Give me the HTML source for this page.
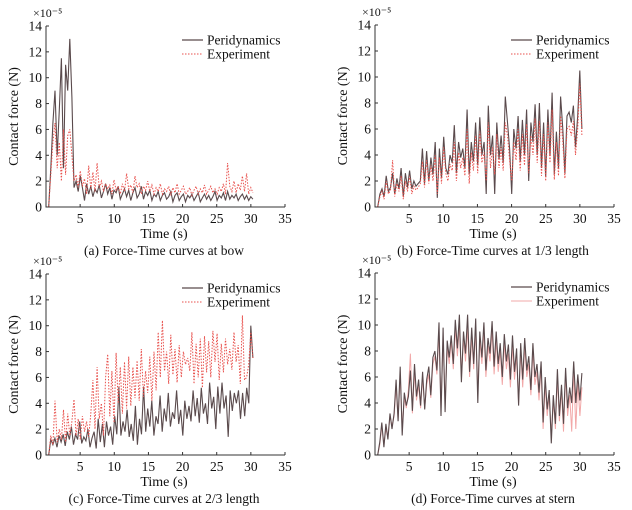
<!DOCTYPE html>
<html><head><meta charset="utf-8">
<style>
html,body{margin:0;padding:0;background:#fff;}
svg{display:block;font-family:"Liberation Serif",serif;}
</style></head>
<body>
<svg id="chart" width="632" height="510" viewBox="0 0 632 510"></svg>
<script>
const xTicks = [5,10,15,20,25,30,35];
const yTicks = [0,2,4,6,8,10,12,14];
const captions = ["(a) Force-Time curves at bow","(b) Force-Time curves at 1/3 length","(c) Force-Time curves at 2/3 length","(d) Force-Time curves at stern"];
const seriesNames = ["Peridynamics","Experiment"];
const tEnd = 30.3;
const tStart = 0.4;

const bowPeri = [0,3,6.5,9,4,7.5,11.5,3,11,9,13,8.5,1.5,2,1.2,2.4,1.5,0.5,1.8,1,1.6,0.8,1.4,1.1,1.7,0.7,1.2,1.8,1,1.5,0.6,1.3,1.1,1.6,0.6,1,1.4,0.8,1.3,0.5,1.1,1.5,0.7,1,1.6,0.6,1.2,0.9,1.3,0.5,1,0.8,1.2,0.5,0.9,1.1,0.6,0.8,1.2,0.4,0.9,1.1,0.5,0.8,1,0.4,0.9,0.7,1,0.5,0.8,1.1,0.4,0.7,1,0.6,0.9,0.5,0.8,1.2,0.5,0.9,0.7,1.1,0.5,1.2,0.6,0.9,0.7,1,0.5,0.8,1,0.6,0.9,0.5,0.8,0.6];
const bowExp = [0,2.5,5,6.5,3,5,2,6,2.5,5.5,6,4,2,2.5,1.5,2.8,1.6,2.2,1,3.2,1.4,2.7,1.2,3.4,1.5,2,1.2,1.8,1.4,1.7,1,2.1,1.3,1.6,1,1.8,1.2,2.6,1.4,1.7,1.1,2.4,1.5,1.8,1,1.6,1.3,2,1.2,1.7,1,1.5,1.2,1.8,1,1.4,1.2,1.6,0.9,1.5,1.1,1.8,1,1.3,1.6,1,1.2,1.5,0.9,1.3,1.6,1,1.4,1.1,1.7,1,1.3,1.6,1.1,1.4,1,1.5,1.2,1.8,1,3.4,1.6,1.2,2,1.1,1.8,1.3,2.4,1.2,2.6,1,1.5,1.1];
const thirdPeri = [0,1,1.4,0.8,2.4,1.2,1.5,2.6,1,2.2,1.4,3,0.8,2.6,1.5,2.8,1.4,2,1.6,1.8,2,4.5,1.8,4.3,2,3.8,2.5,5,0.7,4.5,2.2,5.4,3,2.5,4,3.4,6.3,2.6,5,3.8,4.5,3,7.5,2.5,5,3.5,6.5,3.2,6.9,4,5,1,7.8,4,5.5,1,6.5,3.7,5.5,3.4,8.5,6.5,4.5,1,6,4.5,7,3.5,6.7,4,7.5,2,6.5,5,7.9,4,8,3,6.5,2.3,7.5,4,8.8,2.5,5.8,3,8.5,6,2.6,7,7.3,6.5,7.8,4.6,7,10.5,6];
const thirdExp = [0,0.8,1.2,0.6,2,1,1.3,3.6,0.8,1.8,1.2,2.4,0.6,2,1.2,2.4,1,1.6,1.3,1.5,1.8,3.5,1.5,3.6,1.8,3.2,2,4,1,3.8,1.8,4.6,2.6,2,3.3,2.8,5,2,4.2,3,3.8,2.4,6,1.8,4.2,2.8,5.5,2.6,5.8,3.4,4.2,2,6.5,3,4.6,2.5,5.6,3,4.6,2.8,6.5,5.5,3.6,2,5,3.6,6,2.8,5.6,3.2,6.4,2.6,5.5,4,6.8,3.4,6.6,2.4,5.6,2,6.5,3.4,7.5,2.1,5,2.4,7,5,2.2,6,6.2,5.5,6.6,4,6,9.5,5.5];
const twoThirdPeri = [0,1.2,0.8,1.3,0.6,1.5,1,1.6,0.7,1.8,1.2,2.2,0.8,1.6,1.2,2.6,0.9,1.4,1.1,2,0.6,1.3,1.8,0.5,2.8,1,2.4,0.6,2.6,1.5,2.2,0.8,3,1.6,5.3,1.5,2.6,1.8,3.5,1.4,2.4,1.1,3.8,0.8,2.8,1.6,5.3,1.8,3.6,2.2,4.2,1.5,3,2.4,4.6,1.8,3.6,2.6,4.8,2.2,3.3,2.8,5,2.4,3.5,1.5,4.2,2.8,3.8,2.6,5,3,4.4,2.5,5.2,3.2,4,2.4,5.6,3.6,4.5,2,5.3,3.2,5.6,3.6,4.6,1.4,5,3.4,4.8,4,5,2.8,4.8,3,5.2,4,10,7.5];
const twoThirdExp = [0,1.5,0.8,4.2,1,2,1.2,3.5,1,3.2,1.5,2.6,4.3,1.5,2.8,1.2,3,1.8,2.6,1.4,3.2,5.8,2,6.8,2.8,4,1.5,6,7.8,3,6.5,2.5,7.9,4,6.8,3.2,7.2,3.6,7.6,3.8,6.8,4.4,7.3,4.2,8.2,4.5,6.5,4.8,7.6,4.2,8,5,9.5,6,10.4,6.5,8,5.5,9.3,6.2,8.2,5.6,8.5,6,8,7,7.5,6.5,9.5,5.5,8.6,6,9,5.2,9.2,6.4,8.8,6,9.6,7.2,9.4,5.8,8.6,6.4,9,7,8.2,6.6,9.5,7.2,8.5,5.5,10.8,5.8,6,7,9.5,7.5];
const sternPeri = [0,1,2.5,0.6,2.4,1.2,3.2,2,3.2,5.8,2.6,6.8,1.5,4.8,3.8,4.5,6.5,3.4,7,4.5,5.8,3.8,6.4,3.5,5.8,6.8,4.6,7.5,8,6.5,10.2,3,9.8,3.3,8.8,7.5,9.2,7,10.4,8.2,10.8,5.6,9.5,7.8,10.8,6.4,9.8,7,10.5,4,9.5,7.5,10.2,6.5,9,7.8,10.3,6.8,9.5,7,8.6,6,9.3,7.2,8.5,5.8,9.2,6.4,8.2,3.8,8.6,5.8,9,6.5,7.6,5,8.6,6,7,4.8,7.2,2.5,6,3.5,5,0.9,4.6,2.4,6.6,3,5.4,2.4,6.7,3.6,5.2,4,7.2,4,6.2,4.2,6.3];
const sternExp = [0,0.8,2.2,0.8,2,1.4,3,2.2,3,5.2,2.8,6.2,2,4.4,3.6,5,7.8,3.2,6.4,4.2,5.4,3.6,6,3.6,5.4,6.2,4.4,7,7.6,6.2,9.4,3.6,9,4,8.4,7,8.8,6.6,9.8,7.6,10,6,9,7.2,9.8,6,9.2,6.6,9.8,5,8.8,7,9.6,6,8.4,7.2,9.6,6.2,8.8,6.4,8,5.4,8.6,6.6,7.8,5.2,8.4,5.8,7.6,4,8,5.2,8.4,6,7,4.6,8,5.4,6.4,4.2,6.8,2,5.4,3,4.6,1.6,4.2,2,6,2.6,5,1.8,6.2,3,4.6,1.8,6.6,2,5.6,3,5.2];

const svg = document.getElementById('chart');
const NS = 'http://www.w3.org/2000/svg';
function mk(tag, attrs, parent){const e=document.createElementNS(NS,tag);for(const k in attrs)e.setAttribute(k,attrs[k]);parent.appendChild(e);return e;}

function drawPanel(name, ox, y0, y14, peri, exp, expStyle, caption, legY){
  const g = mk('g',{},svg);
  
  
  const x35 = ox + 239;
  const xs = t => ox + t/35*(x35-ox);
  const ys = v => y0 - v/14*(y0-y14);
  const line = (arr, attrs, nm) => {
    const n = arr.length;
    const pts = arr.map((v,i)=>xs(tStart + i*(tEnd-tStart)/(n-1)).toFixed(1)+','+ys(v).toFixed(1)).join(' ');
    const p = mk('polyline', Object.assign({points:pts, fill:'none'}, attrs), g);
    
    
  };
  if (expStyle==='pink') {
    line(exp, {stroke:'#f2a8a8','stroke-width':1}, 'experiment-line');
  }
  line(peri, {stroke:'#5a4a4c','stroke-width':1.1}, 'peridynamics-line');
  if (expStyle==='dot') {
    line(exp, {stroke:'#e8504c','stroke-width':1,'stroke-dasharray':'1.5,1.5'}, 'experiment-line');
  }
  const ax = mk('path',{d:`M${ox},${y14} L${ox},${y0} L${x35},${y0}`,stroke:'#333',fill:'none','stroke-width':1},g);
  
  
  xTicks.forEach(t=>{
    mk('line',{x1:xs(t),x2:xs(t),y1:y0,y2:y0-3,stroke:'#333'},g);
    const tx = mk('text',{x:xs(t),y:y0+16,'text-anchor':'middle','font-size':13.5,fill:'#111'},g);
    tx.textContent = t;
    
    
  });
  yTicks.forEach(v=>{
    mk('line',{x1:ox,x2:ox+3,y1:ys(v),y2:ys(v),stroke:'#333'},g);
    const tx = mk('text',{x:ox-4,y:ys(v)+4.5,'text-anchor':'end','font-size':13.5,fill:'#111'},g);
    tx.textContent = v;
    
    
  });
  const ex = mk('text',{x:ox-13,y:y14-9,'font-size':12,fill:'#111'},g);
  ex.textContent = '×10⁻⁵';
  
  
  const xt = mk('text',{x:ox+118,y:y0+31,'text-anchor':'middle','font-size':14,fill:'#111'},g);
  xt.textContent = 'Time (s)';
  
  
  const cy = (y0+y14)/2;
  const yt = mk('text',{x:0,y:0,'text-anchor':'middle','font-size':14,fill:'#111',transform:`translate(${ox-28},${cy}) rotate(-90)`},g);
  yt.textContent = 'Contact force (N)';
  
  
  const cp = mk('text',{x:ox+118,y:y0+48,'text-anchor':'middle','font-size':13.5,fill:'#111'},g);
  cp.textContent = caption;
  
  
  const lx = ox + 136;
  mk('line',{x1:lx,x2:lx+21,y1:legY,y2:legY,stroke:'#5a4a4c','stroke-width':1.2},g);
  const l1 = mk('text',{x:lx+25,y:legY+4.5,'font-size':13.5,fill:'#111'},g);
  l1.textContent = seriesNames[0];
  
  
  if (expStyle==='dot') mk('line',{x1:lx,x2:lx+21,y1:legY+14,y2:legY+14,stroke:'#e8504c','stroke-dasharray':'1.5,1.5'},g);
  else mk('line',{x1:lx,x2:lx+21,y1:legY+14,y2:legY+14,stroke:'#f2a8a8'},g);
  const l2 = mk('text',{x:lx+25,y:legY+18.5,'font-size':13.5,fill:'#111'},g);
  l2.textContent = seriesNames[1];
  
  
}
drawPanel('panel-bow', 46, 207, 26, bowPeri, bowExp, 'dot', captions[0], 40);
drawPanel('panel-one-third', 375, 207, 25, thirdPeri, thirdExp, 'dot', captions[1], 40);
drawPanel('panel-two-thirds', 46, 455, 274, twoThirdPeri, twoThirdExp, 'dot', captions[2], 288);
drawPanel('panel-stern', 375, 455, 273, sternPeri, sternExp, 'pink', captions[3], 287);
</script>
</body></html>
